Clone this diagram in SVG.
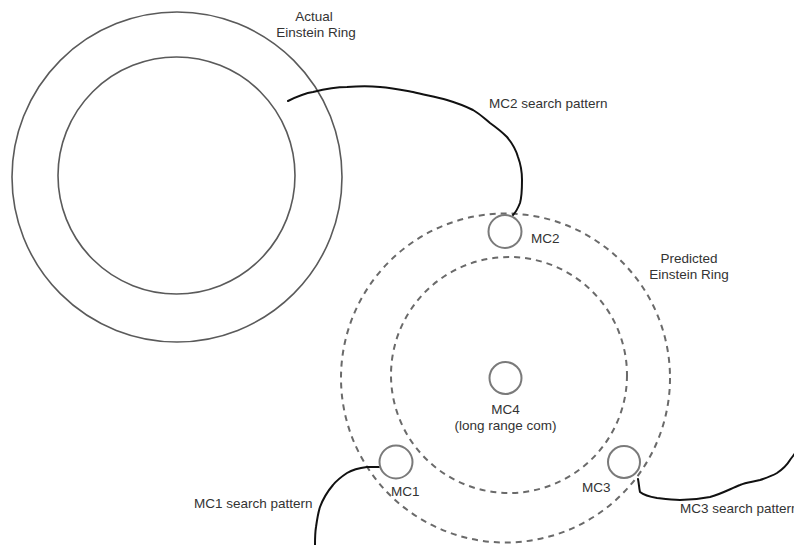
<svg xmlns="http://www.w3.org/2000/svg" width="794" height="545" viewBox="0 0 794 545">
<style>
.ring{fill:none;stroke:#5a5a5a;stroke-width:1.6}
.dash{fill:none;stroke:#6a6a6a;stroke-width:2;stroke-dasharray:6 5}
.mc{fill:#fff;stroke:#7a7a7a;stroke-width:2}
.path{fill:none;stroke:#111;stroke-width:2;stroke-linecap:round;stroke-linejoin:round}
text{font-family:"Liberation Sans",Arial,sans-serif;font-size:13.5px;fill:#333}
.c{text-anchor:middle}
</style>
<rect width="794" height="545" fill="#fff"/>
<g id="actual-ring">
<circle class="ring" cx="177" cy="177" r="165"/>
<circle class="ring" cx="176.5" cy="175.5" r="118.5"/>
<text class="c" x="314" y="21">Actual</text>
<text class="c" x="316" y="37">Einstein Ring</text>
</g>
<g id="predicted-ring">
<circle class="dash" cx="505.5" cy="378" r="164.5"/>
<circle class="dash" cx="509" cy="375" r="118"/>
<text class="c" x="689" y="263">Predicted</text>
<text class="c" x="689" y="279">Einstein Ring</text>
</g>
<g id="connectors">
<path class="path" d="M288,101 C300,95 306,93 313,92 C325,89 336,87 347,87 C360,86 370,86 380,87 C392,88 402,90 413,92 C425,95 436,97 447,100 C457,103 465,106 473,110 C480,114 485,119 490,123 C497,128 502,132 507,137 C512,143 516,150 518,157 C521,165 522,172 522,180 C522,188 522,196 520,203 C518,208 516,212 513,215"/>
<path class="path" d="M379,467 C375,467 371,467 367,467 C359,468 352,470 347,473 C341,477 337,480 333,485 C327,492 323,499 320,507 C318,513 317,520 316,527 C315,533 315,539 315,545"/>
<path class="path" d="M638,479 C639,484 639,488 640,492 C645,496 651,497 657,498 C665,499 672,500 680,500 C690,500 700,499 710,497 C721,494 730,489 740,485 C747,482 753,482 760,480 C766,478 772,476 777,473 C783,469 787,465 790,460 C792,457 794,455 796,452"/>
</g>
<g id="mc2">
<circle class="mc" cx="505" cy="231.5" r="16.5"/>
<text x="531" y="243">MC2</text>
</g>
<g id="mc4">
<circle class="mc" cx="505.5" cy="378" r="16"/>
<text class="c" x="505.5" y="414">MC4</text>
<text class="c" x="505.5" y="430">(long range com)</text>
</g>
<g id="mc1">
<circle class="mc" cx="396" cy="462" r="16.5"/>
<text x="391" y="496">MC1</text>
</g>
<g id="mc3">
<circle class="mc" cx="624" cy="462" r="16"/>
<text x="582" y="492">MC3</text>
</g>
<g id="labels">
<text x="489" y="108">MC2 search pattern</text>
<text x="194" y="508">MC1 search pattern</text>
<text x="680" y="513">MC3 search pattern</text>
</g>
</svg>
